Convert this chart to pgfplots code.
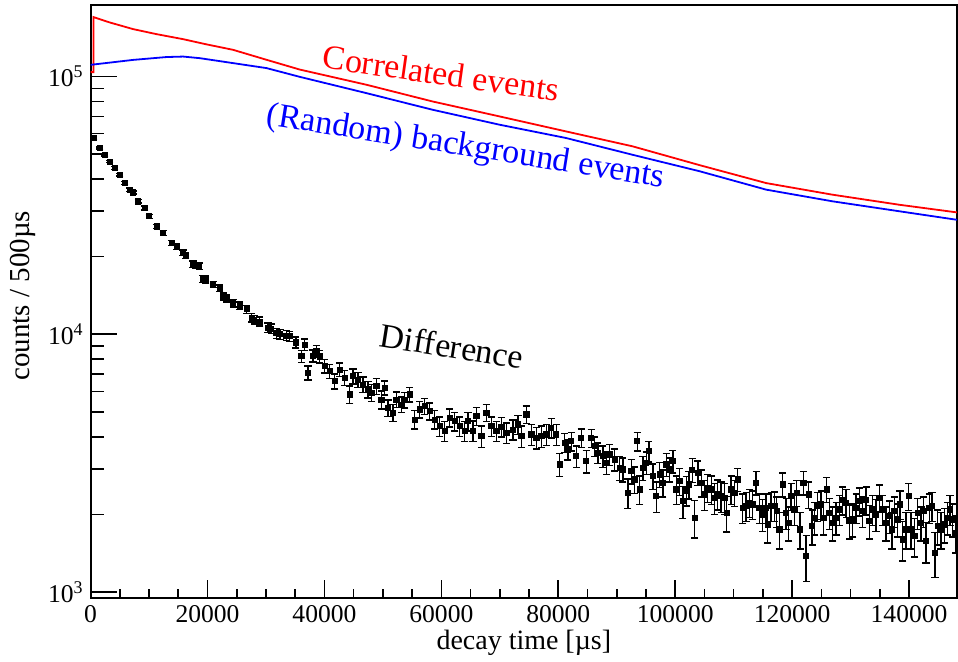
\documentclass[border=0pt]{standalone}
\usepackage{fontspec}
\setmainfont{Liberation Serif}
\usepackage{pgfplots}
\pgfplotsset{compat=1.18}
\usetikzlibrary{calc}
\newcommand{\tickfont}{\fontsize{12.8}{14}\selectfont}
\newcommand{\labfont}{\fontsize{14}{16}\selectfont}
\newcommand{\annfont}{\fontsize{17}{20}\selectfont}
\pgfplotsset{
  diffstyle/.style={only marks, mark=square*, black, mark size=1.3pt,
    error bars/.cd, y dir=both, y fixed=#1,
    error bar style={line width=0.7pt, black},
    error mark options={rotate=90, black, mark size=1.8pt, line width=0.7pt}},
}
\begin{document}
\begin{tikzpicture}
% axis with x ticks and labels
\begin{axis}[name=B,
  width=433.65pt, height=297.15pt, scale only axis,
  xmin=0, xmax=148200, ymin=0, ymax=1,
  tick align=inside, xtick pos=bottom, ytick pos=left,
  axis line style={line width=1pt, black},
  tick style={black, line width=0.8pt},
  ticklabel style={font=\tickfont},
  scaled x ticks=false,
  xtick={0,20000,40000,60000,80000,100000,120000,140000},
  xticklabels={0,20000,40000,60000,80000,100000,120000,140000},
  minor x tick num=3,
  major tick length=9pt, minor tick length=4.5pt,
  ytick=\empty, minor ytick={},
  xlabel={decay time [µs]},
  xlabel style={font=\labfont, at={(axis description cs:0.5,0)}, anchor=center, yshift=-22pt},
]
\addplot[draw=none, forget plot] coordinates {(0,0.5)};
\end{axis}
% data axis with y ticks
\begin{axis}[name=A,
  width=433.65pt, height=297.15pt, scale only axis,
  xmin=0, xmax=148200, ymin=945, ymax=190000,
  ymode=log,
  tick align=inside, xtick pos=bottom, ytick pos=left,
  axis line style={line width=1pt, black},
  tick style={black, line width=0.8pt},
  ticklabel style={font=\tickfont},
  xtick=\empty, minor xtick={},
  ytick={1000,10000,100000},
  yticklabels={10\textsuperscript{3},10\textsuperscript{4},10\textsuperscript{5}},
  minor ytick={2000,3000,4000,5000,6000,7000,8000,9000,20000,30000,40000,50000,60000,70000,80000,90000,200000},
  major tick length=13pt, minor tick length=6.5pt,
  ylabel={counts / 500µs},
  ylabel style={font=\fontsize{14.5}{16}\selectfont, at={(axis description cs:-0.0785,0.51)}, anchor=center},
]
% Correlated events (red)
\addplot[red, line width=0.9pt, sharp plot] coordinates {
(0,104000) (500,104000) (500,170000) (3300,162000) (7280,152700) (11280,146000)
(15830,139600) (19660,133500) (24380,126900) (30090,116100) (35780,106400)
(47180,92900) (58510,80000) (69970,70000) (81370,61200) (92700,53600)
(104170,45300) (115560,38600) (126890,34800) (138350,31800) (148200,29700)
};
% Random background (blue)
\addplot[blue, line width=0.9pt, sharp plot] coordinates {
(0,111000) (7280,116000) (12990,119000) (15830,119500) (18680,117800)
(24380,112700) (30090,107800) (35780,99700) (47180,86200) (58510,74300)
(69970,65000) (81370,57700) (92700,49700) (104170,42900) (115560,36400)
(126890,32800) (138350,30000) (148200,27800)
};
% Difference
\addplot[diffstyle=520] coordinates {
(564,57700) (1590,52800) (2444,49700) (3299,46800) (4154,44200) (5009,41600)
(5863,38600) (6718,36400) (7282,35500) (8137,32800) (9282,30900) (10017,28700)
(11282,26200) (12410,24700) (13846,22600) (14701,21900) (15800,20700) (16300,20200)
(17500,18700) (18000,18500) (18564,18400) (19200,16400) (19700,16300)
};
\addplot[diffstyle=450] coordinates {
(20958,15600) (22103,15100) (22667,14000) (23248,13800) (24376,13200) (25521,12900)
(26667,12500) (27521,11600) (28000,11400) (28940,11200) (30359,10600) (30900,10500)
(31795,10100) (32400,10000) (33504,9890) (34068,9820) (35100,9300)
(36068,8215) (36633,9120) (37197,7087) (38051,8250) (38633,8595) (39197,8200)
(40052,7516) (40906,7190) (41761,6574) (42616,7300) (43470,6776) (44325,5840)
(44889,6874) (45744,6674) (46598,6383) (47453,6106) (48034,5929) (48889,6287)
(49743,5584)
};
\addplot[diffstyle=380] coordinates {
(50308,6198) (50872,5184) (51726,4958) (52307,5584) (53162,5339) (53726,5560)
(54581,5840) (55436,4670) (56290,5107) (57145,5260) (58000,5030) (58854,4670)
(59709,4400) (60564,4207) (61418,4742) (62273,4600) (63127,4400) (63982,4207)
(64547,4600) (65402,4220) (65983,4810) (66838,4024) (67692,4958) (68547,4400)
(69402,4207) (70256,4380) (71111,4147) (72239,4271) (73094,4467) (73675,4024)
(74530,4884) (75385,4085) (76239,3966) (77094,4024) (77949,4085) (78803,4337)
(79658,4085)
};
\addplot[diffstyle=320] coordinates {
(80222,3126) (81077,3793) (81641,3573) (82222,3848) (83077,3366) (83932,3966)
(84786,3219) (85641,3950) (86205,3680) (86769,3470) (87624,3366) (88205,3174)
(88769,3418) (89624,3268) (90479,3035) (91043,2989) (91898,2428) (92479,2944)
(93043,2734) (93500,3848) (93897,2500) (94462,3035) (95043,3174) (95487,3519)
(96171,2816) (96752,2356) (97316,2860) (97880,2655) (98462,3126) (99026,2989)
(99590,3219) (100171,2500) (100735,2693) (101299,2253) (101881,2480) (102325,2615)
(102906,2980) (103299,1943) (103863,2903) (104444,2655) (105008,2392) (105572,2539)
(106154,2500) (106718,2322) (107282,2400) (107863,2356) (108427,2322) (108820,2032)
(109573,2500)
};
\addplot[diffstyle=280] coordinates {
(110137,2428) (110701,2734) (111556,2124) (112137,2154) (112701,2221) (113265,2187)
(113846,2655) (114410,2124) (114974,2001) (115556,2124) (115829,1830) (116410,2154)
(116974,2160) (117367,2061) (117829,1750) (118393,2615) (118974,2032) (119419,1858)
(119829,2356) (120393,2092) (120786,2428) (121367,1750) (121931,2655) (122393,1380)
(122838,2392) (123419,1803) (123812,1943) (124376,2154) (124957,2187) (125351,1943)
(125915,2500) (126376,2032) (126940,1858) (127521,1943) (128085,2092) (128650,2273)
(129231,2221) (129795,1885) (130359,1913) (130940,2124) (131504,2253) (132068,2061)
(132650,2273) (133214,1885) (133778,2092) (134359,2001) (134923,2322) (135487,2092)
(136068,1858) (136633,1971) (137094,1750) (137487,2061) (138051,1913) (138462,2187)
(138906,1601) (139487,1750) (139932,2356) (140342,1750) (140906,1649) (141470,2032)
(142051,1858) (142445,2061) (142906,1577) (143470,2124) (143932,2154) (144445,1421)
(144890,1803) (145471,1750) (146035,1830) (146599,1943) (147009,2092) (147454,1913)
(148035,1699)
};
\node[red, rotate=-8, font=\annfont] at (axis cs:60000,103100) {Correlated events};
\node[blue, rotate=-9, font=\annfont] at (axis cs:64150,52900) {(Random) background events};
\node[black, rotate=-9, font=\annfont] at (axis cs:61810,8985) {Difference};
\end{axis}
\pgfresetboundingbox
\path ($(A.south west)+(-45.35pt,-31.5pt)$) rectangle ($(A.north east)+(0.5pt,2.35pt)$);
\end{tikzpicture}
\end{document}
